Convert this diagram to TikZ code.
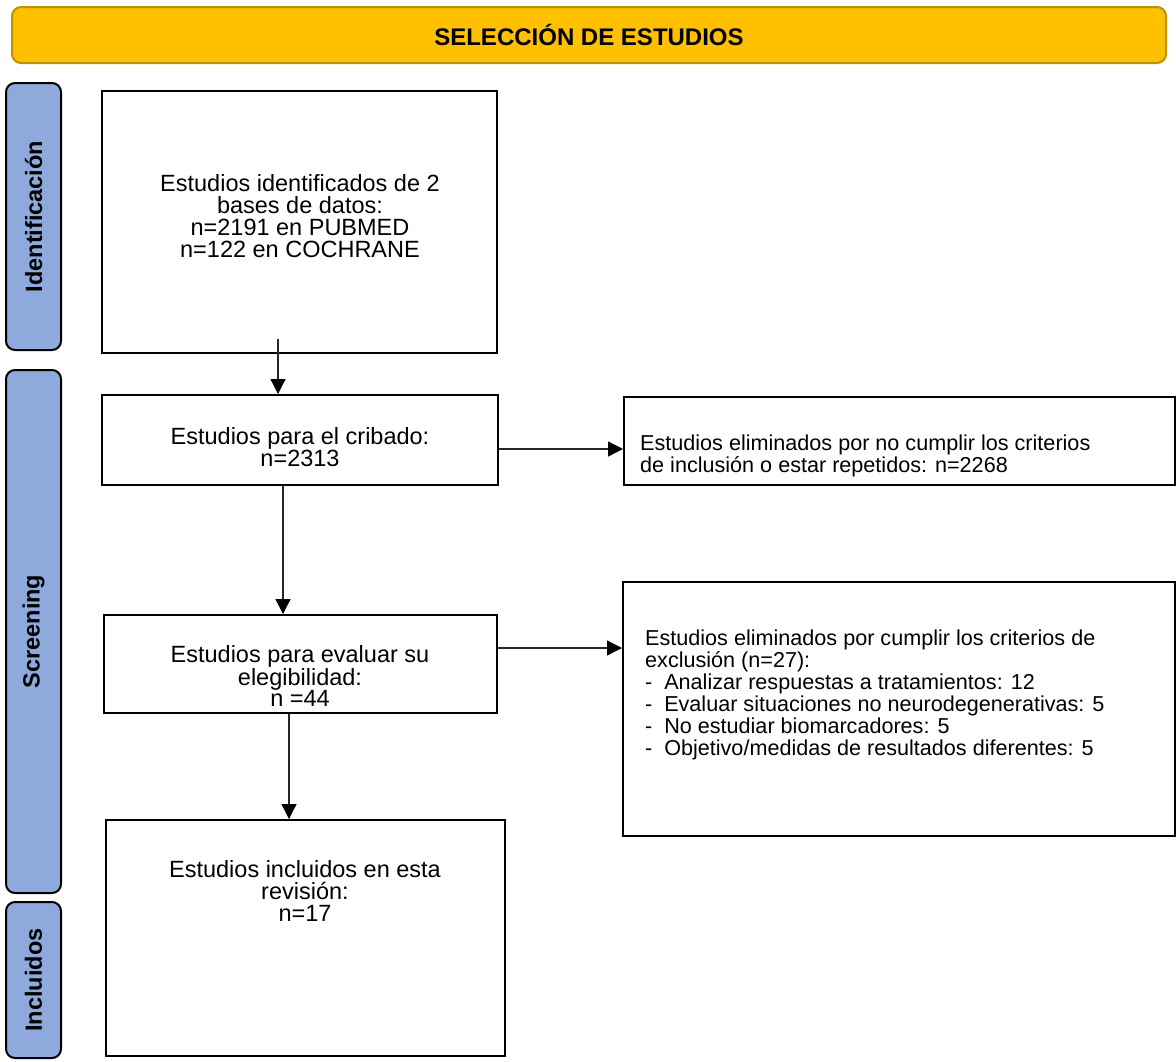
\documentclass[tikz,border=0pt]{standalone}
\usepackage{fontspec}
\setmainfont{Liberation Sans}
\usetikzlibrary{arrows.meta}
\definecolor{hdrfill}{HTML}{FFC000}
\definecolor{hdrdraw}{HTML}{BF9000}
\definecolor{sidefill}{HTML}{8EA9DB}
\tikzset{
  hdr/.style={draw=hdrdraw, fill=hdrfill, line width=2pt, rounded corners=9pt, inner sep=0pt},
  side/.style={draw=black, fill=sidefill, line width=2pt, rounded corners=9pt, inner sep=0pt},
  sidetxt/.style={rotate=90, font=\fontsize{23.5}{26}\selectfont\bfseries, inner sep=0pt},
  box/.style={draw=black, line width=2pt, inner sep=0pt},
  txtL/.style={align=center, font=\fontsize{23.5}{21.8}\selectfont, inner sep=0pt},
  txtR/.style={align=left, font=\fontsize{21.6}{22}\selectfont, inner sep=0pt, anchor=west},
  arr/.style={line width=1.3pt, draw=black!85, -{Triangle[length=15pt,width=15pt,color=black]}}
}
\begin{document}
\begin{tikzpicture}[x=1pt,y=-1pt]
\useasboundingbox (0,0) rectangle (1176,1061);
\fill[white] (0,0) rectangle (1176,1061);
% header
\node[hdr, minimum width=1154pt, minimum height=56pt] (hdr) at (589,35) {};
\node[font=\fontsize{24}{26}\selectfont\bfseries, inner sep=0pt] (hdrt) at (589,35) {SELECCIÓN DE ESTUDIOS};
% side labels
\node[side, minimum width=55pt, minimum height=267pt] (s1) at (33.5,216.5) {};
\node[sidetxt] (s1t) at (33.5,216.5) {Identificación};
\node[side, minimum width=55pt, minimum height=523pt] (s2) at (33.5,631.5) {};
\node[sidetxt] (s2t) at (33.5,631.5) {Screening};
\node[side, minimum width=55pt, minimum height=156pt] (s3) at (33.5,980) {};
\node[sidetxt] (s3t) at (33.5,980) {Incluidos};
% left boxes
\node[box, minimum width=395pt, minimum height=262pt] (b1) at (299.5,222) {};
\node[txtL] (b1t) at (300,216) {Estudios identificados de 2\\bases de datos:\\n=2191 en PUBMED\\n=122 en COCHRANE};
\node[box, minimum width=396pt, minimum height=90pt] (b2) at (300,440) {};
\node[txtL] (b2t) at (300,447) {Estudios para el cribado:\\n=2313};
\node[box, minimum width=393pt, minimum height=98pt] (b3) at (300.5,664) {};
\node[txtL] (b3t) at (300,676) {Estudios para evaluar su\\elegibilidad:\\n =44};
\node[box, minimum width=399pt, minimum height=236pt] (b4) at (305.5,938) {};
\node[txtL] (b4t) at (305,891) {Estudios incluidos en esta\\revisión:\\n=17};
% right boxes
\node[box, minimum width=551pt, minimum height=88pt] (r1) at (899.5,441) {};
\node[txtR] (r1t) at (640,456) {Estudios eliminados por no cumplir los criterios\\de inclusión o estar repetidos: n=2268};
\node[box, minimum width=552pt, minimum height=254pt] (r2) at (899,709) {};
\node[txtR] (r2t) at (645,695) {Estudios eliminados por cumplir los criterios de\\exclusión (n=27):\\-\hspace{0.55em}Analizar respuestas a tratamientos: 12\\-\hspace{0.55em}Evaluar situaciones no neurodegenerativas: 5\\-\hspace{0.55em}No estudiar biomarcadores: 5\\-\hspace{0.55em}Objetivo/medidas de resultados diferentes: 5};
% connectors
\coordinate (a1s) at ([yshift=15pt]b1.south -| 278,0);
\draw[arr] (a1s) -- (a1s |- b2.north);
\draw[arr] (b2.east |- 0,449) -- (r1.west |- 0,449);
\coordinate (a3s) at (b2.south -| 283,0);
\draw[arr] (a3s) -- (a3s |- b3.north);
\draw[arr] (b3.east |- 0,648) -- (r2.west |- 0,648);
\coordinate (a5s) at (b3.south -| 289,0);
\draw[arr] (a5s) -- (a5s |- b4.north);
\end{tikzpicture}
\end{document}
